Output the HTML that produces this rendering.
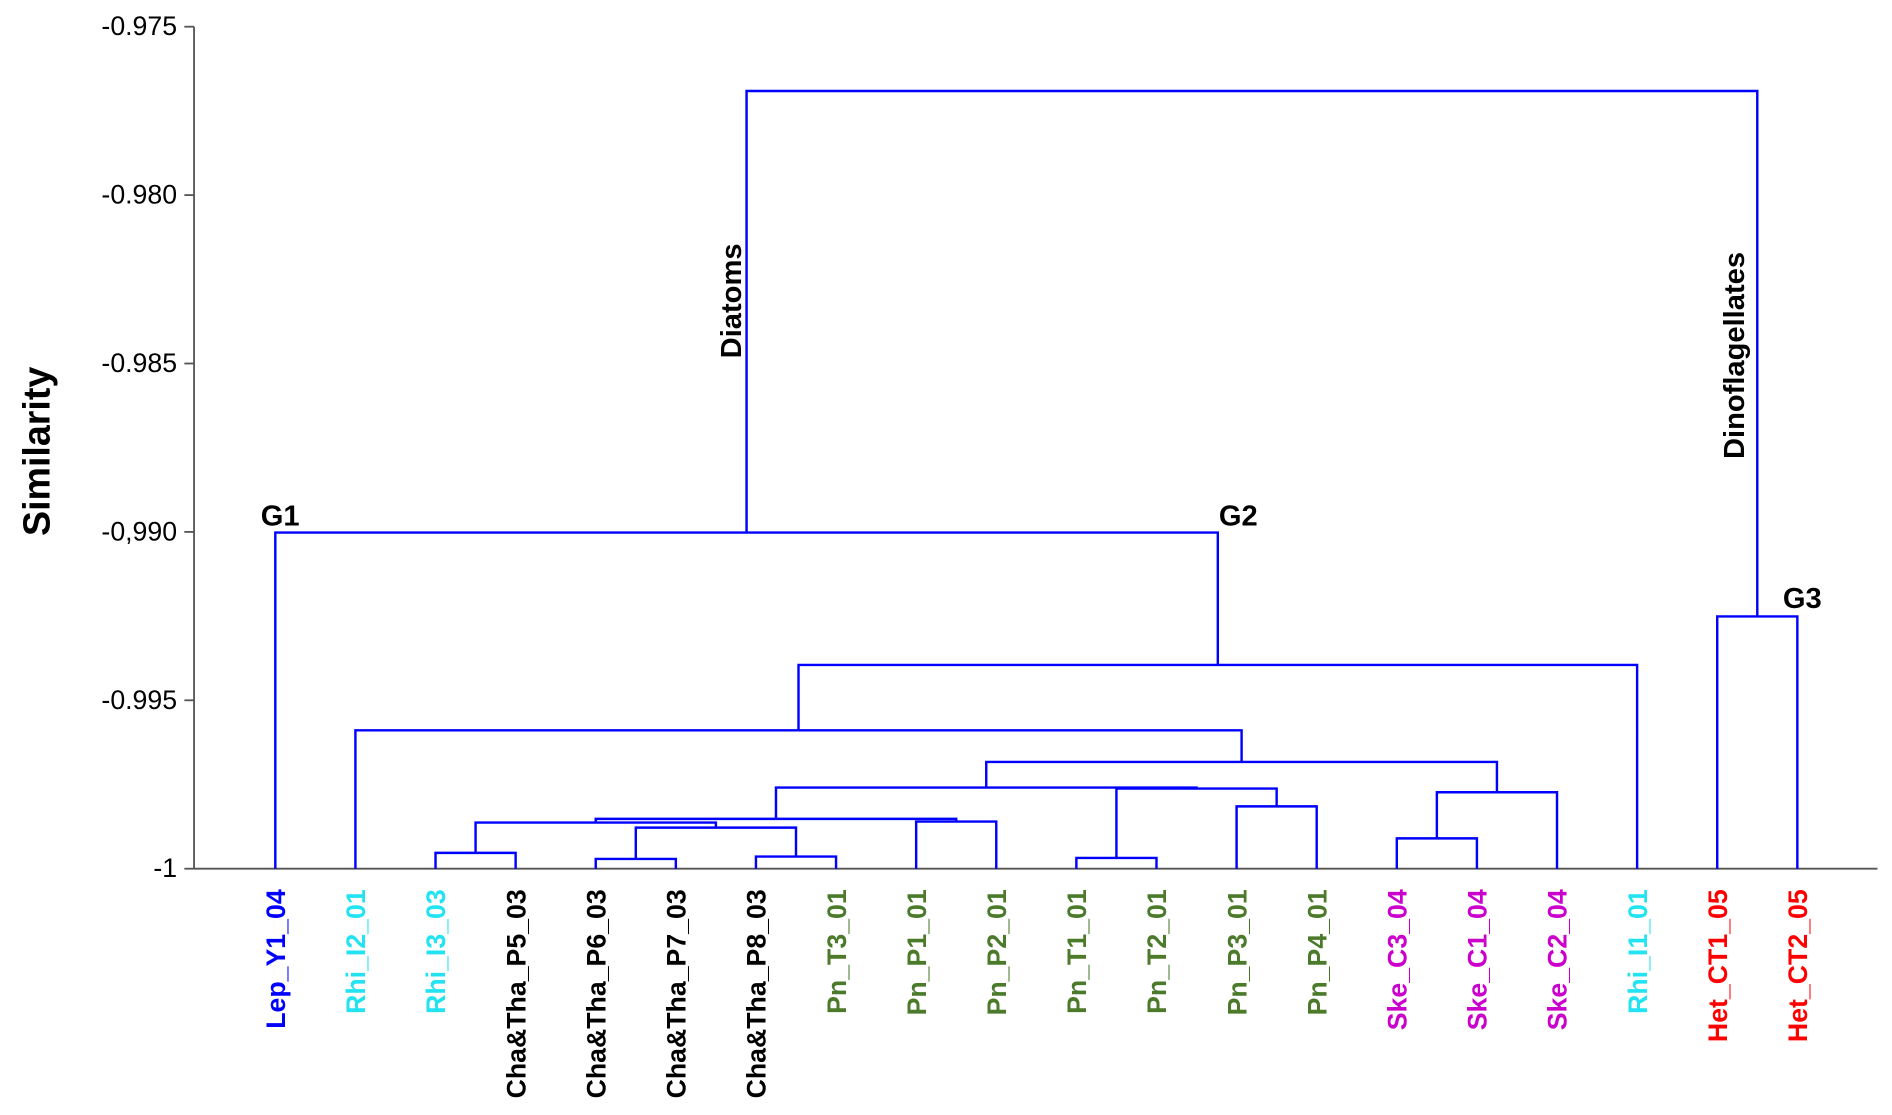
<!DOCTYPE html>
<html><head><meta charset="utf-8"><style>
html,body{margin:0;padding:0;background:#fff}
svg{display:block;font-family:"Liberation Sans",Arial,sans-serif}
</style></head><body>
<svg id="chart" width="1892" height="1115" viewBox="0 0 1560 919" preserveAspectRatio="none" xmlns="http://www.w3.org/2000/svg">
<g id="axes"></g>
<g id="tree"></g>
<g id="labels"></g>
<text transform="translate(41,372) rotate(-90)" text-anchor="middle" font-size="31" font-weight="bold">Similarity</text>
<text transform="translate(611,248) rotate(-90)" text-anchor="middle" font-size="24" font-weight="bold">Diatoms</text>
<text transform="translate(1438,293) rotate(-90)" text-anchor="middle" font-size="24" font-weight="bold">Dinoflagellates</text>
<text x="231" y="433" text-anchor="middle" font-size="24" font-weight="bold">G1</text>
<text x="1021" y="433" text-anchor="middle" font-size="24" font-weight="bold">G2</text>
<text x="1486" y="501" text-anchor="middle" font-size="24" font-weight="bold">G3</text>
</svg>
<script>
const leafNames = ["Lep_Y1_04","Rhi_I2_01","Rhi_I3_03","Cha&Tha_P5_03","Cha&Tha_P6_03","Cha&Tha_P7_03","Cha&Tha_P8_03","Pn_T3_01","Pn_P1_01","Pn_P2_01","Pn_T1_01","Pn_T2_01","Pn_P3_01","Pn_P4_01","Ske_C3_04","Ske_C1_04","Ske_C2_04","Rhi_I1_01","Het_CT1_05","Het_CT2_05"];
const leafGroups = ["Lep","Rhi","Rhi","Cha","Cha","Cha","Cha","Pn","Pn","Pn","Pn","Pn","Pn","Pn","Ske","Ske","Ske","Rhi","Het","Het"];
const mergeLeft  = [2,4,6,21,20,8,24,10,12,27,26,14,31,30,1,34,0,18,36];
const mergeRight = [3,5,7,22,23,9,25,11,13,28,29,15,16,32,33,17,35,19,37];
const mergeHeight = [-0.99953,-0.99971,-0.99964,-0.99878,-0.99863,-0.99860,-0.99852,-0.99968,-0.99815,-0.99762,-0.99759,-0.99910,-0.99773,-0.99683,-0.99589,-0.99395,-0.99002,-0.99251,-0.97691];
const yTicks = [-0.975,-0.980,-0.985,-0.990,-0.995,-1];
const yTickLabels = ["-0.975","-0.980","-0.985","-0,990","-0.995","-1"];

const NS="http://www.w3.org/2000/svg";
const X0=227, STEP=66.05, AX=160, YTOP=22, YBOT=716;
const yScale=v=>YBOT+(v-(-1))/(0.025)*(YTOP-YBOT);
const xLeaf=i=>X0+i*STEP;
const colors={Lep:"#0000ff",Rhi:"#22e3f2",Cha:"#000000",Pn:"#4a7a2a",Ske:"#cc00cc",Het:"#ff0000"};
function mk(tag,attrs,parent){const e=document.createElementNS(NS,tag);for(const k in attrs)e.setAttribute(k,attrs[k]);parent.appendChild(e);return e;}
const axes=document.getElementById('axes'),tree=document.getElementById('tree'),labels=document.getElementById('labels');
let l=mk('line',{x1:AX,y1:YTOP,x2:AX,y2:YBOT,stroke:"#555","stroke-width":1.5},axes);


l=mk('line',{x1:AX,y1:YBOT,x2:1548,y2:YBOT,stroke:"#555","stroke-width":1.5},axes);


yTicks.forEach((v,i)=>{const y=yScale(v);
 const t=mk('line',{x1:AX-8,y1:y,x2:AX,y2:y,stroke:"#555","stroke-width":1.5},axes);
 
 
 const tx=mk('text',{x:146,y:y+7,"text-anchor":"end","font-size":22},axes);
 
 
 tx.textContent=yTickLabels[i];});
const nx=[],ny=[];
leafNames.forEach((n,i)=>{nx[i]=xLeaf(i);ny[i]=-1;
 const t=mk('text',{transform:`translate(${xLeaf(i)+8},733) rotate(-90)`,"text-anchor":"end","font-size":22,"font-weight":"bold",fill:colors[leafGroups[i]]},labels);
 
 
 t.textContent=n;});
mergeLeft.forEach((a,k)=>{const b=mergeRight[k],id=leafNames.length+k,h=mergeHeight[k];
 nx[id]=(nx[a]+nx[b])/2;ny[id]=h;const yh=yScale(h);
 const p=mk('path',{d:`M${nx[a]},${yScale(ny[a])}V${yh}H${nx[b]}V${yScale(ny[b])}`,fill:"none",stroke:"#0000ff","stroke-width":2},tree);
 
 });
</script>
</body></html>
